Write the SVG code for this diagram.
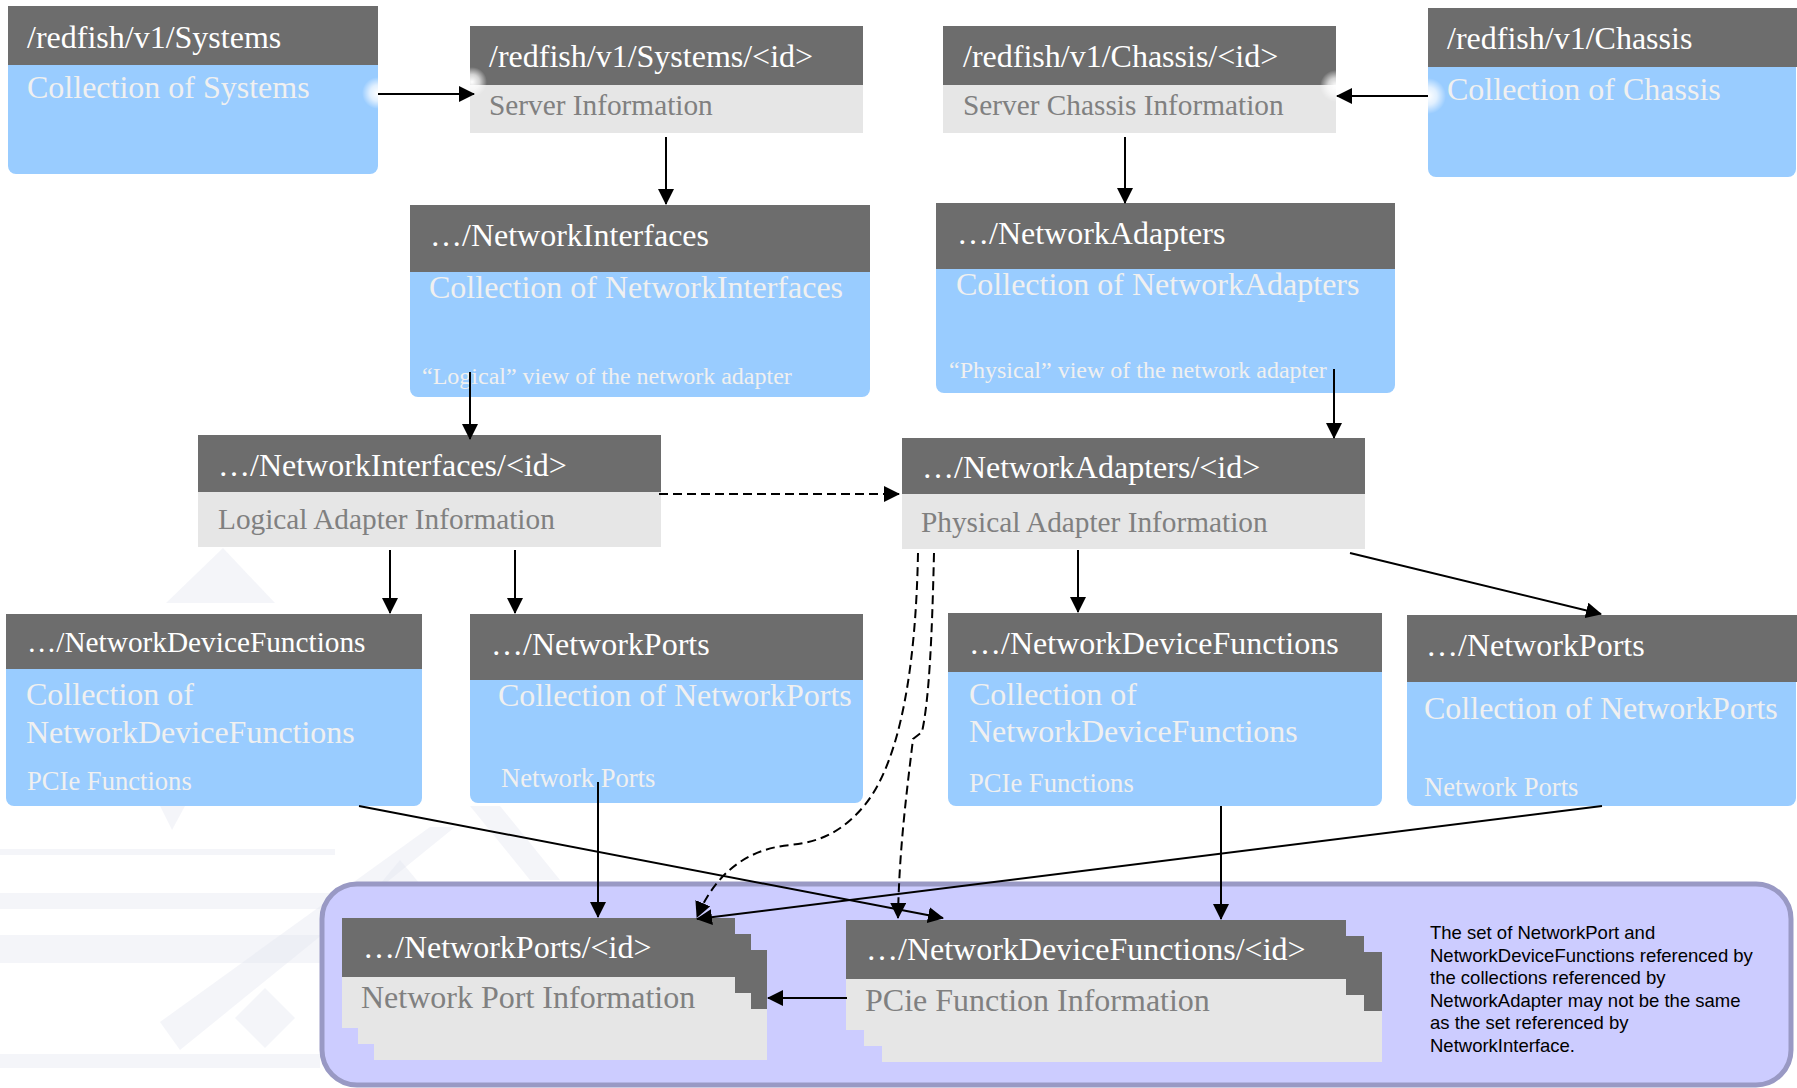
<svg xmlns="http://www.w3.org/2000/svg" width="1797" height="1088" viewBox="0 0 1797 1088">
<style>
.hdr{fill:#6D6D6D}
.blue{fill:#99CCFF}
.info{fill:#E6E6E6}
.t{font-family:"Liberation Serif","Times New Roman",serif;font-size:32px;fill:#FFFFFF}
.b{font-family:"Liberation Serif","Times New Roman",serif;font-size:32px;fill:#F0F0F0}
.g{font-family:"Liberation Serif","Times New Roman",serif;font-size:32px;fill:#808080}
.gs{font-size:29.3px}
.sm{font-size:24px}
.pc{font-size:26.6px}
.note{font-family:"Liberation Sans",Arial,sans-serif;font-size:18.5px;fill:#000000}
.c{stroke:#000000;stroke-width:2;fill:none;marker-end:url(#arr)}
.d{stroke-dasharray:9 5}
.wm{fill:#E4E7F0;opacity:0.4}
</style>
<defs>
<marker id="arr" viewBox="0 0 16 16" refX="15" refY="8" markerWidth="16" markerHeight="16" markerUnits="userSpaceOnUse" orient="auto"><path d="M0,0 L16,8 L0,16 Z" fill="#000000"/></marker>
<radialGradient id="glow"><stop offset="0" stop-color="#FFFFFF" stop-opacity="1"/><stop offset="0.5" stop-color="#FFFFFF" stop-opacity="0.7"/><stop offset="1" stop-color="#FFFFFF" stop-opacity="0"/></radialGradient>
</defs>

<g id="watermark">
<polygon class="wm" points="223,548 275,603 166,603"/>
<polygon class="wm" points="160,806 185,806 172,830"/>
<rect class="wm" x="0" y="849" width="335" height="6"/>
<rect class="wm" x="0" y="893" width="330" height="16"/>
<rect class="wm" x="0" y="935" width="330" height="28"/>
<rect class="wm" x="0" y="1054" width="320" height="14"/>
<polygon class="wm" points="430,827 455,827 180,1050 160,1022"/>
<polygon class="wm" points="400,860 425,890 400,920 375,890"/>
<polygon class="wm" points="265,988 295,1018 265,1048 235,1018"/>
<polygon class="wm" points="470,806 500,806 560,880 530,880"/>
</g>

<g id="group-bg">
<rect x="322" y="884" width="1469" height="201" rx="35" fill="#CCCCFF" stroke="#9999C4" stroke-width="5"/>
</g>

<g id="n-systems">
<rect class="blue" x="8" y="6" width="370" height="168" rx="8"/>
<rect class="hdr" x="8" y="6" width="370" height="59"/>
<text class="t" x="27" y="48">/redfish/v1/Systems</text>
<text class="b" x="27" y="98">Collection of Systems</text>
</g>

<g id="n-system-id">
<rect class="info" x="470" y="26" width="393" height="107"/>
<rect class="hdr" x="470" y="26" width="393" height="59"/>
<text class="t" x="489" y="67">/redfish/v1/Systems/&lt;id&gt;</text>
<text class="g gs" x="489" y="115">Server Information</text>
</g>

<g id="n-chassis-id">
<rect class="info" x="943" y="26" width="393" height="107"/>
<rect class="hdr" x="943" y="26" width="393" height="59"/>
<text class="t" x="963" y="67">/redfish/v1/Chassis/&lt;id&gt;</text>
<text class="g gs" x="963" y="115">Server Chassis Information</text>
</g>

<g id="n-chassis">
<rect class="blue" x="1428" y="8" width="368" height="169" rx="8"/>
<rect class="hdr" x="1428" y="8" width="369" height="59"/>
<text class="t" x="1447" y="49">/redfish/v1/Chassis</text>
<text class="b" x="1447" y="100">Collection of Chassis</text>
</g>

<g id="glows">
<circle cx="378" cy="93" r="16" fill="url(#glow)"/>
<circle cx="472" cy="82" r="15" fill="url(#glow)"/>
<circle cx="1336" cy="86" r="16" fill="url(#glow)"/>
<circle cx="1428" cy="96" r="18" fill="url(#glow)"/>
</g>

<g id="n-netifaces">
<rect class="blue" x="410" y="205" width="460" height="192" rx="8"/>
<rect class="hdr" x="410" y="205" width="460" height="67"/>
<text class="t" x="430" y="246">…/NetworkInterfaces</text>
<text class="b" x="429" y="298">Collection of NetworkInterfaces</text>
<text class="b sm" x="422" y="384">“Logical” view of the network adapter</text>
</g>

<g id="n-netadapters">
<rect class="blue" x="936" y="203" width="459" height="190" rx="8"/>
<rect class="hdr" x="936" y="203" width="459" height="66"/>
<text class="t" x="957" y="244">…/NetworkAdapters</text>
<text class="b" x="956" y="295">Collection of NetworkAdapters</text>
<text class="b sm" x="949" y="378">“Physical” view of the network adapter</text>
</g>

<g id="n-netiface-id">
<rect class="info" x="198" y="435" width="463" height="112"/>
<rect class="hdr" x="198" y="435" width="463" height="57"/>
<text class="t" x="218" y="476">…/NetworkInterfaces/&lt;id&gt;</text>
<text class="g gs" x="218" y="529">Logical Adapter Information</text>
</g>

<g id="n-netadapter-id">
<rect class="info" x="902" y="438" width="463" height="111"/>
<rect class="hdr" x="902" y="438" width="463" height="56"/>
<text class="t" x="922" y="478">…/NetworkAdapters/&lt;id&gt;</text>
<text class="g gs" x="921" y="532">Physical Adapter Information</text>
</g>

<g id="n-ndf-left">
<rect class="blue" x="6" y="614" width="416" height="192" rx="8"/>
<rect class="hdr" x="6" y="614" width="416" height="55"/>
<text class="t" x="27" y="652" style="font-size:29.3px">…/NetworkDeviceFunctions</text>
<text class="b" x="26" y="705">Collection of</text>
<text class="b" x="26" y="743">NetworkDeviceFunctions</text>
<text class="b pc" x="27" y="790">PCIe Functions</text>
</g>

<g id="n-ports-left">
<rect class="blue" x="470" y="614" width="393" height="189" rx="8"/>
<rect class="hdr" x="470" y="614" width="393" height="66"/>
<text class="t" x="491" y="655">…/NetworkPorts</text>
<text class="b" x="498" y="706">Collection of NetworkPorts</text>
<text class="b pc" x="501" y="787">Network Ports</text>
</g>

<g id="n-ndf-right">
<rect class="blue" x="948" y="613" width="434" height="193" rx="8"/>
<rect class="hdr" x="948" y="613" width="434" height="59"/>
<text class="t" x="969" y="654">…/NetworkDeviceFunctions</text>
<text class="b" x="969" y="705">Collection of</text>
<text class="b" x="969" y="742">NetworkDeviceFunctions</text>
<text class="b pc" x="969" y="792">PCIe Functions</text>
</g>

<g id="n-ports-right">
<rect class="blue" x="1407" y="615" width="389" height="191" rx="8"/>
<rect class="hdr" x="1407" y="615" width="390" height="67"/>
<text class="t" x="1426" y="656">…/NetworkPorts</text>
<text class="b" x="1424" y="719">Collection of NetworkPorts</text>
<text class="b pc" x="1424" y="796">Network Ports</text>
</g>

<g id="n-port-id">
<rect class="info" x="374" y="950" width="393" height="110"/>
<rect class="hdr" x="374" y="950" width="393" height="59"/>
<rect class="info" x="358" y="934" width="393" height="110"/>
<rect class="hdr" x="358" y="934" width="393" height="59"/>
<rect class="info" x="342" y="918" width="393" height="110"/>
<rect class="hdr" x="342" y="918" width="393" height="59"/>
<text class="t" x="363" y="958">…/NetworkPorts/&lt;id&gt;</text>
<text class="g" x="361" y="1008">Network Port Information</text>
</g>

<g id="n-ndf-id">
<rect class="info" x="882" y="952" width="500" height="110"/>
<rect class="hdr" x="882" y="952" width="500" height="59"/>
<rect class="info" x="864" y="936" width="500" height="110"/>
<rect class="hdr" x="864" y="936" width="500" height="59"/>
<rect class="info" x="846" y="920" width="500" height="110"/>
<rect class="hdr" x="846" y="920" width="500" height="59"/>
<text class="t" x="866" y="960">…/NetworkDeviceFunctions/&lt;id&gt;</text>
<text class="g" x="865" y="1011">PCie Function Information</text>
</g>

<g id="n-note">
<text class="note" x="1430" y="939">The set of NetworkPort and</text>
<text class="note" x="1430" y="961.5">NetworkDeviceFunctions referenced by</text>
<text class="note" x="1430" y="984">the collections referenced by</text>
<text class="note" x="1430" y="1006.5">NetworkAdapter may not be the same</text>
<text class="note" x="1430" y="1029">as the set referenced by</text>
<text class="note" x="1430" y="1051.5">NetworkInterface.</text>
</g>

<g id="connectors">
<path class="c" d="M378,94 H474"/>
<path class="c" d="M1428,96 H1337"/>
<path class="c" d="M666,137 V204"/>
<path class="c" d="M1125,137 V203"/>
<path class="c" d="M470,372 V439"/>
<path class="c" d="M1334,369 V438"/>
<path class="c d" d="M659,494 H899"/>
<path class="c" d="M390,550 V613"/>
<path class="c" d="M515,550 V613"/>
<path class="c" d="M1078,550 V612"/>
<path class="c" d="M1350,553 L1601,614"/>
<path class="c" d="M359,806 L943,918"/>
<path class="c" d="M598,782 V917"/>
<path class="c" d="M1602,806 L697,919"/>
<path class="c" d="M1221,806 V919"/>
<path class="c d" d="M918,553 C916,660 902,760 864,806 C842,832 820,842 790,845 C748,849 716,872 697,917"/>
<path class="c d" d="M934,553 C932,640 929,700 922,732 L913,739 C907,790 899,850 898,918"/>
<path class="c" d="M847,998 H768"/>
</g>
</svg>
